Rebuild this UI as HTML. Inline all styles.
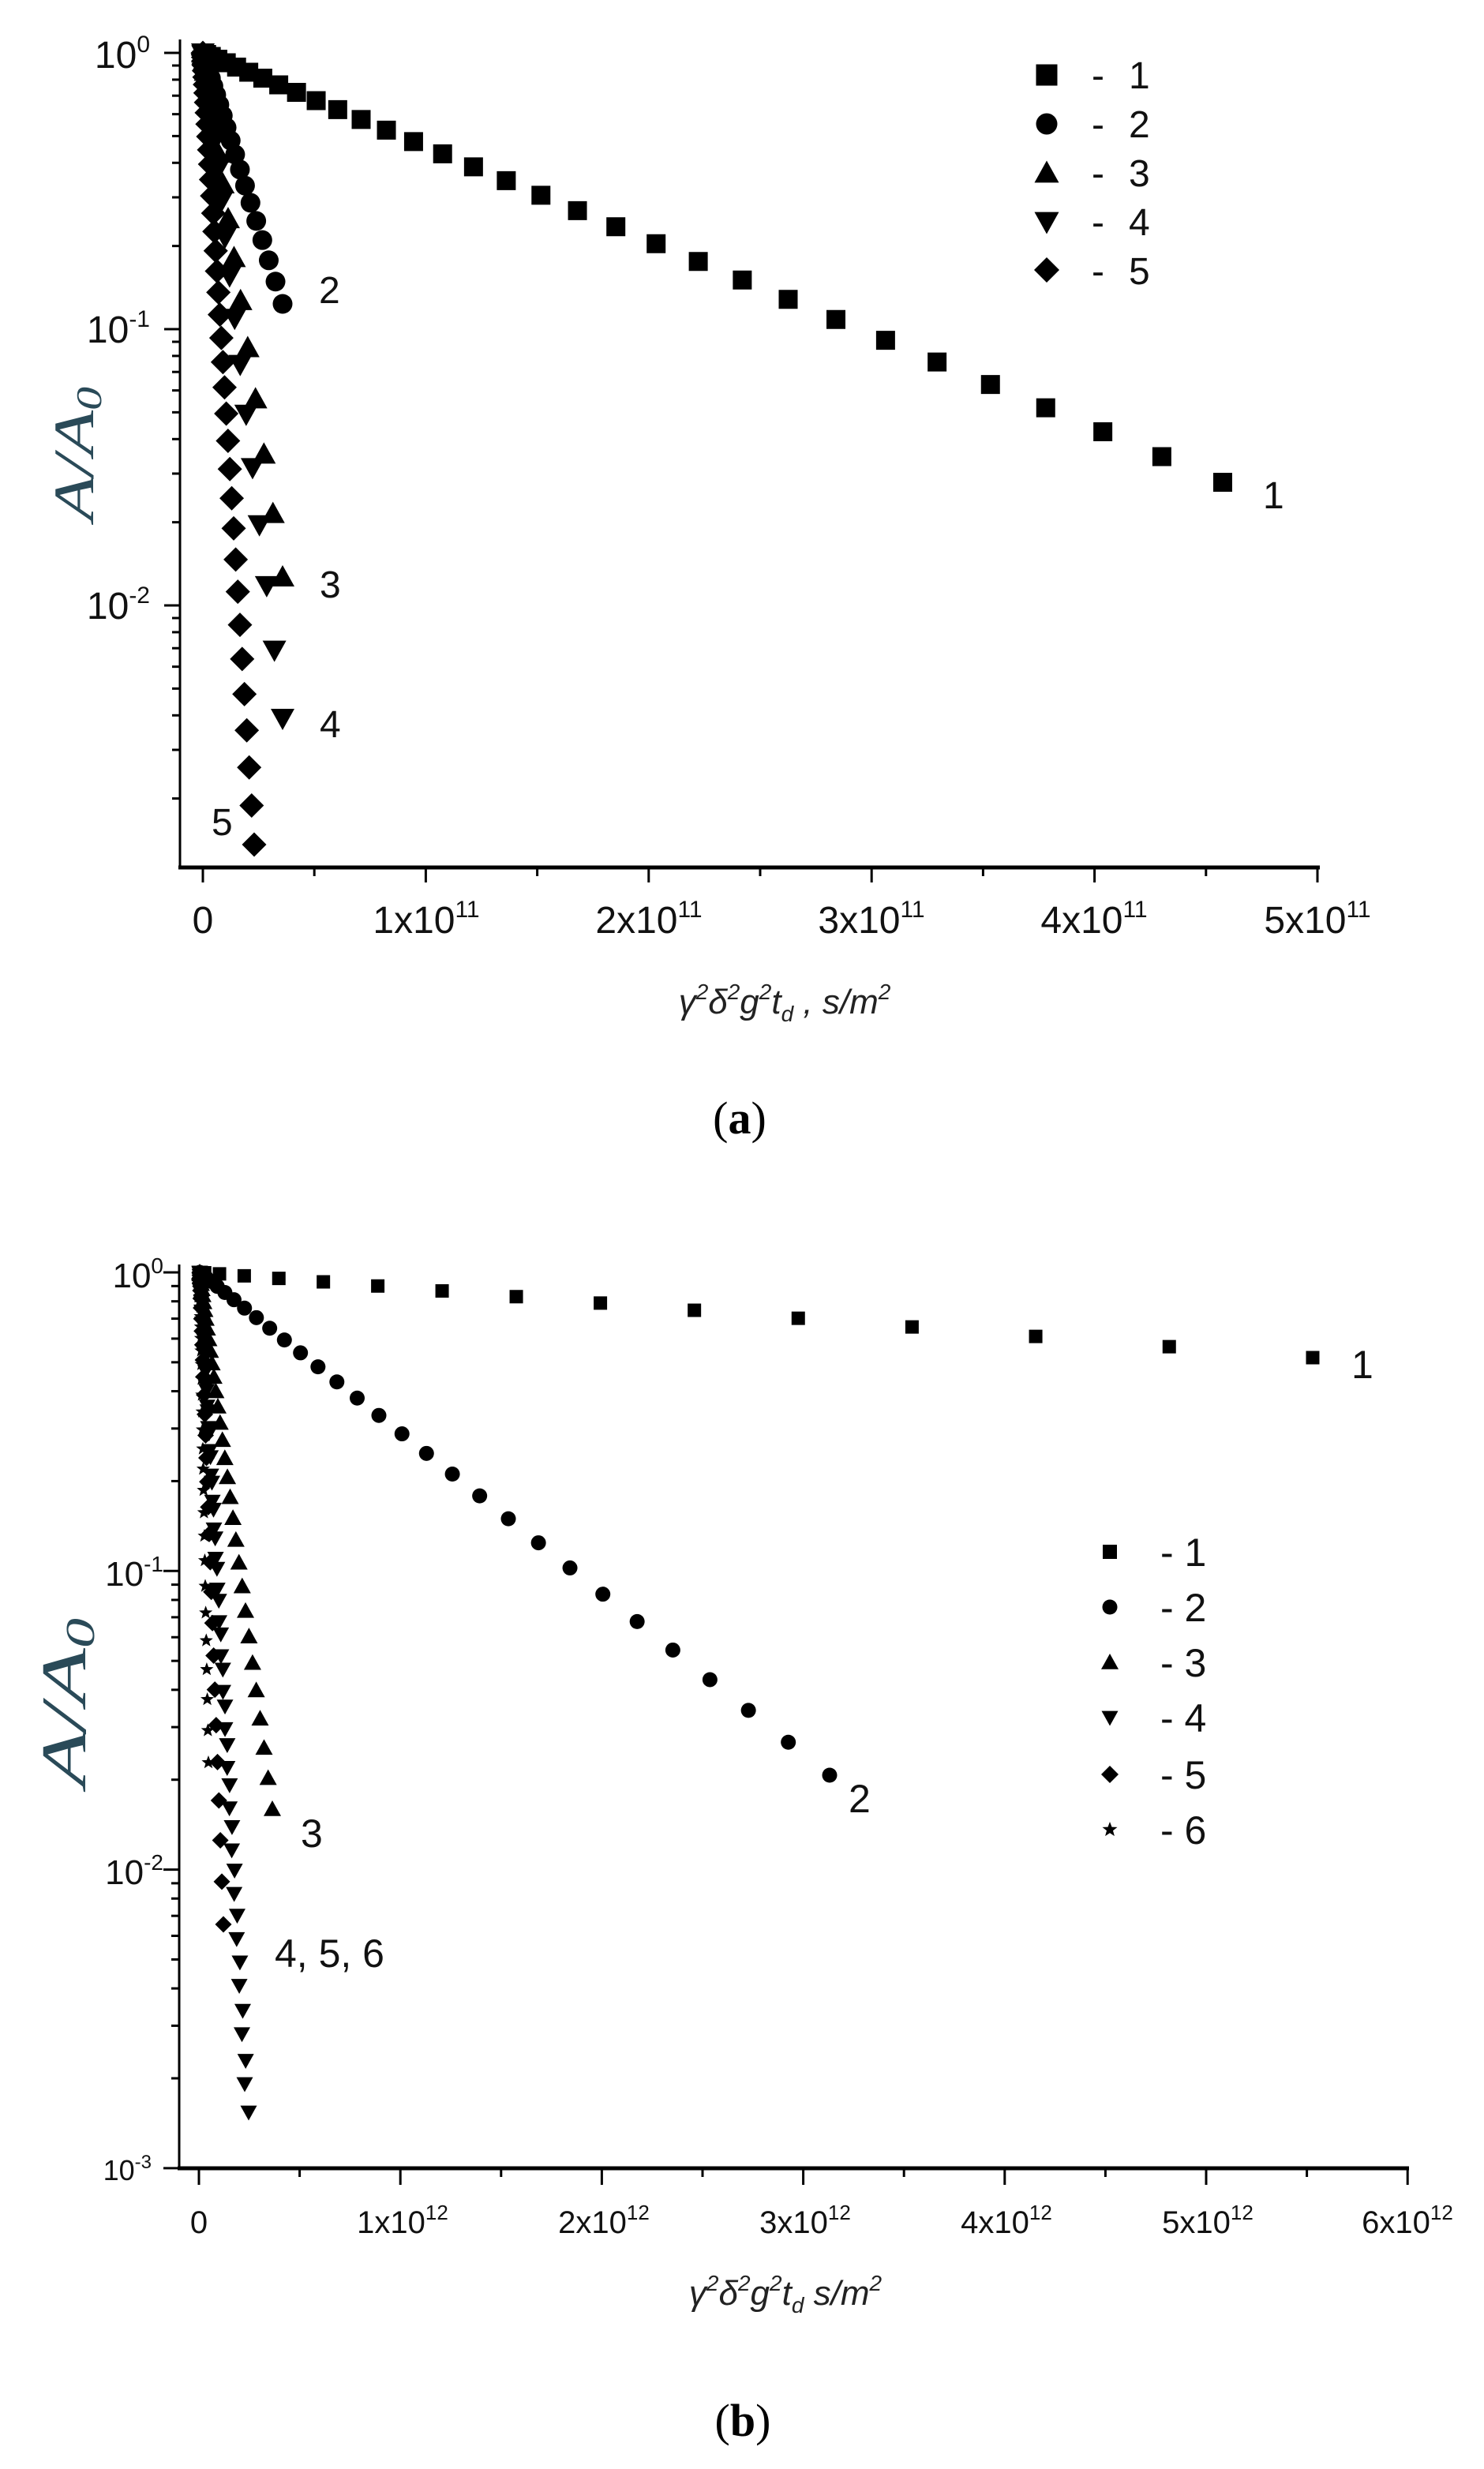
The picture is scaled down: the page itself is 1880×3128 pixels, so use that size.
<!DOCTYPE html>
<html><head><meta charset="utf-8"><style>
html,body{margin:0;padding:0;background:#fff;}
svg{display:block;}
.t{font-family:"Liberation Sans",sans-serif;fill:#111;}
.ttl{font-family:"Liberation Sans",sans-serif;font-style:italic;fill:#222;}
.yl{font-family:"Liberation Serif",serif;font-style:italic;fill:#2a4a58;}
.cap{font-family:"Liberation Serif",serif;fill:#000;}
</style></head><body>
<svg id="s" width="1880" height="3128" viewBox="0 0 1880 3128" xmlns="http://www.w3.org/2000/svg">
<rect width="1880" height="3128" fill="#fff"/>
<g id="ax" stroke="#000" stroke-width="3" fill="none"></g>
<g id="pts" fill="#000"></g>
<!-- (a) labels -->
<g class="t" font-size="48">
<text x="190" y="86" text-anchor="end">10<tspan dy="-20" font-size="30">0</tspan></text>
<text x="190" y="434" text-anchor="end">10<tspan dy="-20" font-size="30">-1</tspan></text>
<text x="190" y="784" text-anchor="end">10<tspan dy="-20" font-size="30">-2</tspan></text>
<text x="257" y="1182" text-anchor="middle">0</text>
<text x="540" y="1182" text-anchor="middle">1x10<tspan dy="-20" font-size="30">11</tspan></text>
<text x="822" y="1182" text-anchor="middle">2x10<tspan dy="-20" font-size="30">11</tspan></text>
<text x="1104" y="1182" text-anchor="middle">3x10<tspan dy="-20" font-size="30">11</tspan></text>
<text x="1386" y="1182" text-anchor="middle">4x10<tspan dy="-20" font-size="30">11</tspan></text>
<text x="1669" y="1182" text-anchor="middle">5x10<tspan dy="-20" font-size="30">11</tspan></text>
<text x="404" y="384">2</text>
<text x="1600" y="644">1</text>
<text x="405" y="757">3</text>
<text x="405" y="934">4</text>
<text x="268" y="1058">5</text>
<text x="1383" y="112">-</text><text x="1430" y="112">1</text>
<text x="1383" y="174">-</text><text x="1430" y="174">2</text>
<text x="1383" y="236">-</text><text x="1430" y="236">3</text>
<text x="1383" y="298">-</text><text x="1430" y="298">4</text>
<text x="1383" y="360">-</text><text x="1430" y="360">5</text>
</g>
<text class="ttl" x="994" y="1284" text-anchor="middle" font-size="44">γ<tspan dy="-18" font-size="28">2</tspan><tspan dy="18">δ</tspan><tspan dy="-18" font-size="28">2</tspan><tspan dy="18">g</tspan><tspan dy="-18" font-size="28">2</tspan><tspan dy="18">t</tspan><tspan dy="10" font-size="28">d</tspan><tspan dy="-10"> , s/m</tspan><tspan dy="-18" font-size="28">2</tspan></text>
<text class="yl" transform="translate(118,660) rotate(-90)" font-size="72" textLength="170" lengthAdjust="spacingAndGlyphs">A/A<tspan dy="10" font-size="46">0</tspan></text>
<text class="cap" x="937" y="1436" text-anchor="middle" font-size="58">(<tspan font-weight="bold">a</tspan>)</text>

<!-- (b) labels -->
<g class="t" font-size="44">
<text x="207" y="1631" text-anchor="end">10<tspan dy="-18" font-size="28">0</tspan></text>
<text x="207" y="2009" text-anchor="end">10<tspan dy="-18" font-size="28">-1</tspan></text>
<text x="207" y="2387" text-anchor="end">10<tspan dy="-18" font-size="28">-2</tspan></text>
<text x="192" y="2762" text-anchor="end" font-size="36">10<tspan dy="-15" font-size="24">-3</tspan></text>
</g>
<g class="t" font-size="40">
<text x="252" y="2829" text-anchor="middle">0</text>
<text x="510" y="2829" text-anchor="middle">1x10<tspan dy="-17" font-size="26">12</tspan></text>
<text x="765" y="2829" text-anchor="middle">2x10<tspan dy="-17" font-size="26">12</tspan></text>
<text x="1020" y="2829" text-anchor="middle">3x10<tspan dy="-17" font-size="26">12</tspan></text>
<text x="1275" y="2829" text-anchor="middle">4x10<tspan dy="-17" font-size="26">12</tspan></text>
<text x="1530" y="2829" text-anchor="middle">5x10<tspan dy="-17" font-size="26">12</tspan></text>
<text x="1783" y="2829" text-anchor="middle">6x10<tspan dy="-17" font-size="26">12</tspan></text>
</g>
<g class="t" font-size="50">
<text x="1712" y="1746">1</text>
<text x="1075" y="2296">2</text>
<text x="381" y="2340">3</text>
<text x="348" y="2492">4, 5, 6</text>
<text x="1470" y="1984">- 1</text>
<text x="1470" y="2054">- 2</text>
<text x="1470" y="2124">- 3</text>
<text x="1470" y="2194">- 4</text>
<text x="1470" y="2266">- 5</text>
<text x="1470" y="2336">- 6</text>
</g>
<text class="ttl" x="995" y="2920" text-anchor="middle" font-size="44">γ<tspan dy="-18" font-size="28">2</tspan><tspan dy="18">δ</tspan><tspan dy="-18" font-size="28">2</tspan><tspan dy="18">g</tspan><tspan dy="-18" font-size="28">2</tspan><tspan dy="18">t</tspan><tspan dy="10" font-size="28">d</tspan><tspan dy="-10">  s/m</tspan><tspan dy="-18" font-size="28">2</tspan></text>
<text class="yl" transform="translate(108,2264) rotate(-90)" font-size="80" textLength="214" lengthAdjust="spacingAndGlyphs">A/A<tspan dy="11" font-size="52">0</tspan></text>
<text class="cap" x="941" y="3086" text-anchor="middle" font-size="58">(<tspan font-weight="bold">b</tspan>)</text>
</svg>
<script>
(function(){
var NS="http://www.w3.org/2000/svg";
var ax=document.getElementById("ax"),pts=document.getElementById("pts");
function L(x1,y1,x2,y2,w){var e=document.createElementNS(NS,"line");e.setAttribute("x1",x1);e.setAttribute("y1",y1);e.setAttribute("x2",x2);e.setAttribute("y2",y2);if(w)e.setAttribute("stroke-width",w);ax.appendChild(e);}
function P(d){var e=document.createElementNS(NS,"path");e.setAttribute("d",d);pts.appendChild(e);}
function mk(t,x,y,s){var h=s/2;
 if(t=="sq")P("M"+(x-h)+" "+(y-h)+"h"+s+"v"+s+"h"+(-s)+"z");
 else if(t=="ci"){var c=document.createElementNS(NS,"circle");c.setAttribute("cx",x);c.setAttribute("cy",y);c.setAttribute("r",h);pts.appendChild(c);}
 else if(t=="up")P("M"+x+" "+(y-h)+"L"+(x+h)+" "+(y+h*0.8)+"L"+(x-h)+" "+(y+h*0.8)+"z");
 else if(t=="dn")P("M"+x+" "+(y+h)+"L"+(x+h)+" "+(y-h*0.8)+"L"+(x-h)+" "+(y-h*0.8)+"z");
 else if(t=="di")P("M"+x+" "+(y-h)+"L"+(x+h)+" "+y+"L"+x+" "+(y+h)+"L"+(x-h)+" "+y+"z");
 else if(t=="st"){var d="";for(var i=0;i<10;i++){var r=i%2?h*0.42:h,a=-Math.PI/2+i*Math.PI/5;d+=(i?"L":"M")+(x+r*Math.cos(a)).toFixed(1)+" "+(y+r*Math.sin(a)).toFixed(1);}P(d+"z");}
}
function ser(t,x0,y0,xe,ye,N,s){for(var k=1;k<=N;k++){var q=(k/N)*(k/N);mk(t,x0+q*(xe-x0),y0+q*(ye-y0),s);}mk(t,x0,y0,s);}
L(228,50,228,1099,3);L(226,1099,1672,1099,5);
for(var i=0;i<=10;i++){var x=257+i*141.2;L(x,1099,x,i%2?1110:1118,3);}
for(var d=0;d<3;d++){var y=67+350*d;L(208,y,228,y,3);for(var m=2;m<=9;m++){var yy=67+350*(d+1-Math.log10(m));if(yy<=1099)L(218,yy,228,yy,3);}}
L(227,1602,227,2747,3);L(225,2747,1785,2747,5);
for(var i=0;i<=12;i++){var x=252+i*127.6;L(x,2747,x,i%2?2758:2768,3);}
for(var d=0;d<=3;d++){var y=1612+378.3*d;L(207,y,227,y,3);if(d<3)for(var m=2;m<=9;m++){var yy=1612+378.3*(d+1-Math.log10(m));L(217,yy,227,yy,3);}}
ser("sq",257,67,1549,611,33,24);
ser("ci",257,67,358,385,22,25);
ser("up",257,67,358,731,16,30);
ser("dn",257,67,358,910,19,30);
ser("di",257,67,322,1070,40,31);
mk("sq",1326,95,27);mk("ci",1326,157,27);mk("up",1326,219,31);mk("dn",1326,281,31);mk("di",1326,342,32);
ser("sq",253,1612,1663,1720,15,17);
ser("ci",253,1612,1051,2249,30,19);
ser("up",253,1612,345,2292,34,22);
ser("dn",253,1612,315,2676,32,21);
ser("dn",253,1612,310,2640,32,21);
ser("di",253,1612,283,2438,30,21);
ser("st",253,1612,264,2233,30,18);
mk("sq",1406,1966,18);mk("ci",1406,2036,19);mk("up",1406,2106,22);mk("dn",1406,2176,21);mk("di",1406,2248,22);mk("st",1406,2318,20);
})();
</script>
</body></html>
